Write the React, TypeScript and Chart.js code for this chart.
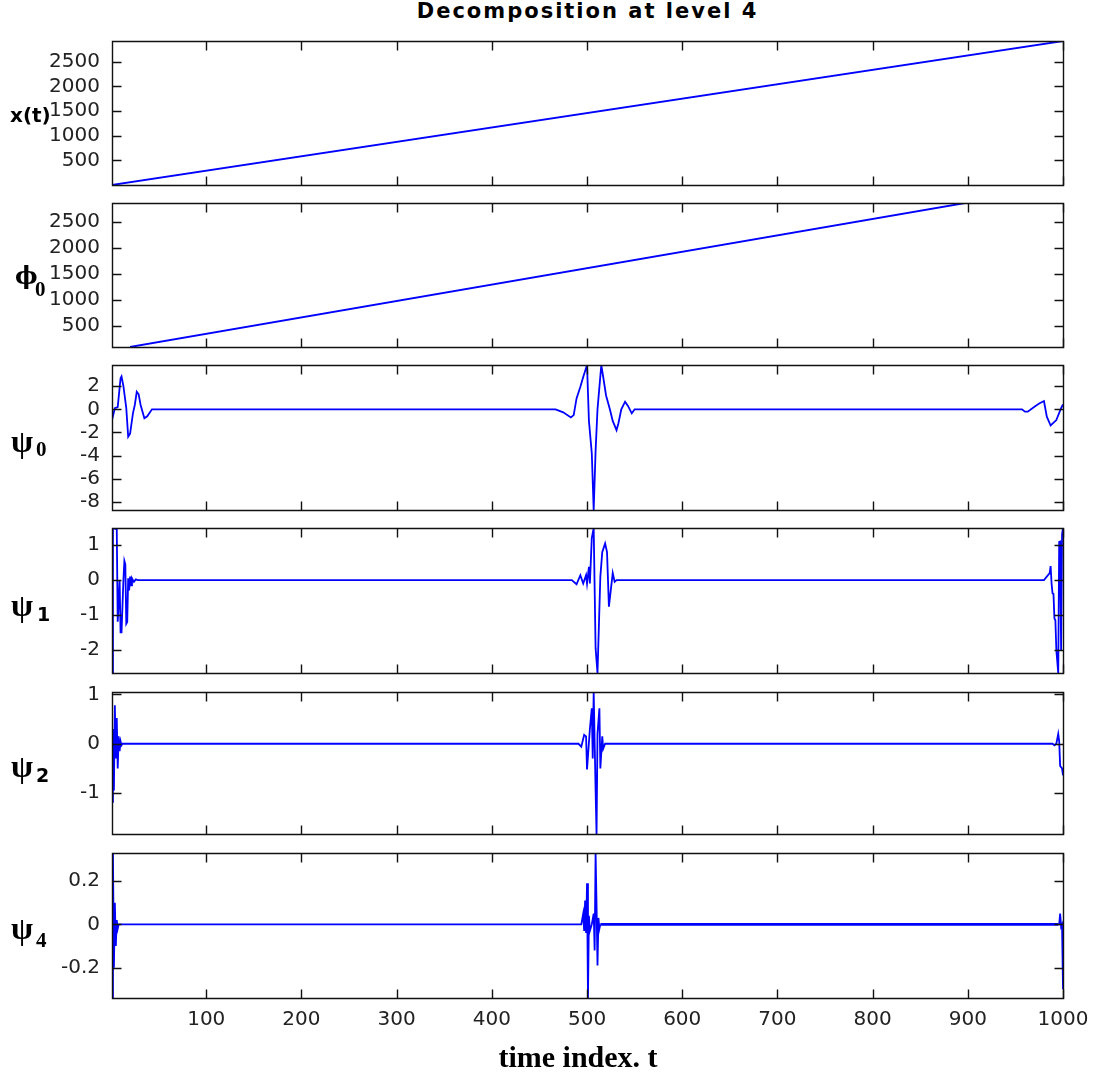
import React, { useEffect, useRef } from 'react';
import { Chart, registerables } from 'chart.js';

Chart.register(...registerables);

// ---------- data ----------
const xTickValues = [100, 200, 300, 400, 500, 600, 700, 800, 900, 1000];

const signalT = [1, 1000];
const signalV = [2, 2920];

const phi0T = [20, 897];
const phi0V = [98, 2858];

const psi0T = [1, 4, 7, 10, 11, 13, 16, 18, 20, 23, 25, 27, 29, 31, 35, 38, 43,
  467, 475, 483, 486, 489, 493, 496, 500, 502, 505, 507, 509, 511, 515, 517, 520, 524, 527, 531, 533, 536, 540, 543, 547, 550,
  957, 960, 963, 970, 975, 980, 983, 987, 993, 998, 1000];
const psi0V = [-0.93, 0.1, 0.2, 2.7, 2.85, 2.0, 0.1, -2.37, -2.1, -0.35, 0.4, 1.52, 1.3, 0.4, -0.78, -0.6, 0,
  0, -0.26, -0.7, -0.5, 0.95, 1.96, 2.8, 3.84, -1.0, -3.8, -8.72, -3.6, 0.0, 3.84, 2.8, 1.2, 0.0, -1.0, -1.8, -1.2, 0, 0.66, 0.3, -0.35, 0,
  0, -0.2, -0.2, 0.23, 0.5, 0.72, -0.64, -1.4, -0.93, 0.1, 0.43];

const psi1T = [1, 2, 6, 7, 8, 9, 10, 11, 13, 14, 15, 16, 17, 18, 19, 20, 21, 22, 24, 26, 28,
  484, 489, 493, 496, 499, 500, 502, 503, 505, 507, 509, 511, 514, 516, 519, 521, 523, 527, 529, 531,
  980, 986, 987, 988, 989, 990, 991, 992, 993, 995, 996, 997, 998, 999, 1000];
const psi1V = [-2.66, 1.49, 1.45, -1.19, -0.6, 0.0, -1.5, -1.5, 0.0, 0.55, 0.45, -1.25, -1.2, 0.05, -0.3, 0.1, -0.15, 0.05, -0.05, 0.02, 0,
  0, -0.12, 0.14, -0.1, 0.14, -0.1, 0.38, -0.1, 1.2, 1.49, -1.95, -2.66, 0.1, 0.8, 1.05, 0.8, -0.76, 0.2, -0.05, 0,
  0, 0.2, 0.4, -0.1, -0.38, -0.4, -1.1, -1.15, -2.0, -2.66, 1.09, 1.1, -2.0, 1.3, 1.49];

const psi2T = [1, 2, 3, 4, 5, 6, 7, 8, 9, 10, 11, 12,
  491, 494, 497, 499, 500, 503, 505, 506, 507, 509, 510, 511, 513, 514, 516, 517, 519,
  989, 991, 993, 995, 996, 997, 999, 1000];
const psi2V = [-1.18, 0.3, -0.95, 0.78, -0.3, 0.52, -0.5, 0.15, -0.15, 0.05, -0.03, 0,
  0, -0.06, 0.18, 0.15, -0.52, 0.3, 0.72, -0.3, 1.05, -0.94, -1.83, 0.2, 0.72, -0.5, 0.15, -0.1, 0,
  0, -0.03, 0.0, 0.2, 0.05, -0.45, -0.5, -0.64];

const psi4T = [1, 2, 3, 4, 5, 6, 7, 8,
  494, 496, 497, 498, 499, 500, 501, 502, 503, 505, 507, 508, 509, 510, 511, 512, 513, 514,
  995, 996, 997, 998, 999, 1000];
const psi4V = [-0.34, 0.33, -0.2, 0.1, -0.1, 0.02, -0.02, 0,
  0, 0.05, -0.03, 0.11, -0.04, 0.19, -0.34, 0.04, -0.03, 0.0, 0.05, -0.12, 0.33, 0.09, -0.19, 0.03, -0.02, 0,
  0, 0, 0.05, -0.01, 0.0, -0.3];

const signalTicks = [500, 1000, 1500, 2000, 2500];
const phi0Ticks = [500, 1000, 1500, 2000, 2500];
const psi0Ticks = [-8, -6, -4, -2, 0, 2];
const psi1Ticks = [-2, -1, 0, 1];
const psi2Ticks = [-1, 0, 1];
const psi4Ticks = [-0.2, 0, 0.2];

// ---------- layout ----------
const W = 1093;
const PAD_T = 16;
const AXIS_H = 45;
const TICK_LEN = 9;
const LINE_W = 1.8;

type PanelCfg = {
  T: number[]; V: number[]; min: number; max: number; ticks: number[];
  top: number; bottom: number; last: boolean; thickFrom?: number; thickTo?: number;
};

const panels: PanelCfg[] = [
  { T: signalT, V: signalV, min: 2, max: 2920, ticks: signalTicks, top: 41, bottom: 185, last: false },
  { T: phi0T, V: phi0V, min: 98, max: 2858, ticks: phi0Ticks, top: 203, bottom: 347, last: false },
  { T: psi0T, V: psi0V, min: -8.72, max: 3.84, ticks: psi0Ticks, top: 365, bottom: 510, last: false },
  { T: psi1T, V: psi1V, min: -2.66, max: 1.49, ticks: psi1Ticks, top: 528, bottom: 673, last: false },
  { T: psi2T, V: psi2V, min: -1.83, max: 1.05, ticks: psi2Ticks, top: 692, bottom: 834, last: false },
  { T: psi4T, V: psi4V, min: -0.34, max: 0.33, ticks: psi4Ticks, top: 853, bottom: 998, last: true, thickFrom: 514, thickTo: 995 },
];

const framePlugin = {
  id: 'matlabFrame',
  afterDraw(chart: any) {
    const { ctx, chartArea: a, scales } = chart;
    const L = Math.round(a.left) + 0.5;
    const R = Math.round(a.right) + 0.5;
    const Tp = Math.round(a.top) + 0.5;
    const B = Math.round(a.bottom) + 0.5;
    ctx.save();
    ctx.strokeStyle = '#111';
    ctx.lineWidth = 1.4;
    ctx.beginPath();
    ctx.rect(L, Tp, R - L, B - Tp);
    ctx.stroke();
    ctx.beginPath();
    for (const v of xTickValues) {
      const px = Math.round(scales.x.getPixelForValue(v)) + 0.5;
      ctx.moveTo(px, Tp); ctx.lineTo(px, Tp + TICK_LEN);
      ctx.moveTo(px, B); ctx.lineTo(px, B - TICK_LEN);
    }
    for (const t of scales.y.ticks) {
      const py = Math.round(scales.y.getPixelForValue(t.value)) + 0.5;
      ctx.moveTo(L, py); ctx.lineTo(L + TICK_LEN, py);
      ctx.moveTo(R, py); ctx.lineTo(R - TICK_LEN, py);
    }
    ctx.stroke();
    ctx.restore();
  },
};

const tickFont = { family: '"DejaVu Sans", sans-serif', size: 20 };

function Panel({ cfg }: { cfg: PanelCfg }) {
  const ref = useRef<HTMLCanvasElement>(null);
  const h = cfg.bottom - cfg.top;
  const canvasTop = cfg.top - PAD_T;
  const canvasH = cfg.last ? h + PAD_T + AXIS_H : h + 2 * PAD_T;

  useEffect(() => {
    if (!ref.current) return;
    const data = cfg.T.map((t, i) => ({ x: t, y: cfg.V[i] }));
    const chart = new Chart(ref.current, {
      type: 'line',
      data: {
        datasets: [{
          data,
          borderColor: '#0000ff',
          borderWidth: LINE_W,
          pointRadius: 0,
          tension: 0,
          fill: false,
          segment: cfg.thickFrom !== undefined ? {
            borderWidth: (c: any) => (c.p0.parsed.x >= cfg.thickFrom! && c.p1.parsed.x <= cfg.thickTo! ? 2.9 : LINE_W),
          } : undefined,
        } as any],
      },
      options: {
        animation: false,
        responsive: false,
        maintainAspectRatio: false,
        events: [],
        layout: { padding: { left: 0, right: 30, top: PAD_T, bottom: cfg.last ? 0 : PAD_T } },
        plugins: { legend: { display: false }, tooltip: { enabled: false }, title: { display: false } },
        scales: {
          x: {
            type: 'linear', min: 1, max: 1000, display: cfg.last,
            grid: { display: true, drawOnChartArea: false, drawTicks: true, tickLength: 10, color: 'rgba(0,0,0,0)' },
            border: { display: false },
            ticks: { font: tickFont, color: '#222', padding: 0, maxRotation: 0, autoSkip: false, callback: (v: any) => String(v) },
            afterBuildTicks: (s: any) => { s.ticks = xTickValues.map((v) => ({ value: v })); },
            afterFit: (s: any) => { if (cfg.last) s.height = AXIS_H; },
          },
          y: {
            type: 'linear', min: cfg.min, max: cfg.max,
            grid: { display: true, drawOnChartArea: false, drawTicks: true, tickLength: 12, color: 'rgba(0,0,0,0)' },
            border: { display: false },
            ticks: { font: tickFont, color: '#222', padding: 0, autoSkip: false, callback: (v: any) => String(v) },
            afterBuildTicks: (s: any) => { s.ticks = cfg.ticks.map((v) => ({ value: v })); },
            afterFit: (s: any) => { s.width = 112; },
          },
        },
      } as any,
      plugins: [framePlugin],
    });
    return () => chart.destroy();
  }, [cfg]);

  return (
    <canvas
      ref={ref}
      width={W}
      height={canvasH}
      style={{ position: 'absolute', left: 0, top: canvasTop, width: W, height: canvasH }}
    />
  );
}

const serifBold = '"Liberation Serif", "Times New Roman", serif';
const dejaSerif = '"DejaVu Serif", serif';
const sansBold = '"DejaVu Sans", Arial, sans-serif';

function Label({ main, sub, top, left, mainFont, subFont, mainSize, subSize, subLeft, subTop }: any) {
  return (
    <>
      <div style={{ position: 'absolute', left, top, fontFamily: mainFont, fontWeight: 'bold', fontSize: mainSize, lineHeight: 1, color: '#000', whiteSpace: 'nowrap' }}>{main}</div>
      {sub !== undefined && (
        <div style={{ position: 'absolute', left: subLeft, top: subTop, fontFamily: subFont, fontWeight: 'bold', fontSize: subSize, lineHeight: 1, color: '#000' }}>{sub}</div>
      )}
    </>
  );
}

export default function App() {
  return (
    <div style={{ position: 'absolute', left: 0, top: 0, width: W, height: 1074, background: '#fff', overflow: 'hidden' }}>
      <div style={{ position: 'absolute', left: 0, width: 1175, top: 1, textAlign: 'center', fontFamily: sansBold, fontWeight: 'bold', fontSize: 21, letterSpacing: 2, lineHeight: 1, color: '#000' }}>
        Decomposition at level 4
      </div>
      {panels.map((p, i) => <Panel key={i} cfg={p} />)}
      <Label main="x(t)" top={105} left={10} mainFont={sansBold} mainSize={20} />
      <Label main="ϕ" sub="0" left={15} top={264} mainFont={dejaSerif} mainSize={24} subFont={serifBold} subSize={21} subLeft={35} subTop={279} />
      <Label main="ψ" sub="0" left={11} top={425} mainFont={serifBold} mainSize={32} subFont={serifBold} subSize={21} subLeft={36} subTop={439} />
      <Label main="ψ" sub="1" left={11} top={589} mainFont={serifBold} mainSize={32} subFont={sansBold} subSize={19} subLeft={37} subTop={605} />
      <Label main="ψ" sub="2" left={11} top={750} mainFont={serifBold} mainSize={32} subFont={sansBold} subSize={19} subLeft={36} subTop={766} />
      <Label main="ψ" sub="4" left={11} top={912} mainFont={serifBold} mainSize={32} subFont={serifBold} subSize={21} subLeft={36} subTop={930} />
      <div style={{ position: 'absolute', left: 0, width: 1156, top: 1042, textAlign: 'center', fontFamily: serifBold, fontWeight: 'bold', fontSize: 30, lineHeight: 1, color: '#000' }}>
        time index. t
      </div>
    </div>
  );
}
